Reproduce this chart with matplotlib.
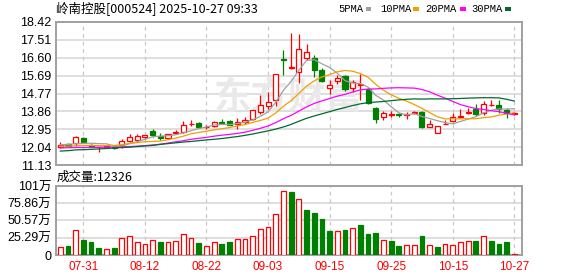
import matplotlib
matplotlib.use("Agg")
import matplotlib.pyplot as plt
from matplotlib.patches import Rectangle
import numpy as np

# ---------------- data ----------------
title = "岭南控股[000524] 2025-10-27 09:33"
vol_title = "成交量:12326"

opens = [12.07, 12.18, 12.23, 12.50, 12.15, 12.03, 12.05, 12.04, 12.16, 12.35,
         12.40, 12.58, 12.88, 12.60, 12.49, 12.75, 12.83, 13.20, 13.25, 13.05,
         13.12, 13.31, 13.38, 13.20, 13.30, 13.46, 13.85, 14.15, 14.42, 16.55,
         16.06, 15.86, 16.58, 16.60, 15.96, 15.07, 15.43, 15.66, 15.04, 15.20,
         14.98, 14.05, 13.58, 13.70, 13.75, 13.70, 13.76, 13.84, 13.08, 12.78,
         13.22, 13.36, 13.60, 13.77, 13.98, 13.80, 14.18, 14.17, 13.94, 13.72]
highs = [12.28, 12.25, 12.60, 12.54, 12.18, 12.05, 12.11, 12.06, 12.45, 12.70,
         12.70, 12.67, 12.98, 12.74, 12.71, 12.92, 13.37, 13.43, 13.34, 13.18,
         13.38, 13.50, 13.42, 13.55, 13.60, 13.95, 14.70, 14.85, 15.78, 17.00,
         17.86, 17.82, 17.28, 16.72, 16.05, 15.47, 15.70, 15.72, 15.45, 15.78,
         15.05, 14.08, 13.88, 13.89, 13.77, 13.85, 13.88, 13.86, 13.42, 13.12,
         13.42, 13.76, 13.98, 14.05, 14.26, 14.38, 14.45, 14.44, 14.05, 13.82]
lows = [11.98, 12.06, 12.12, 12.28, 12.03, 11.80, 12.03, 11.96, 12.00, 12.28,
        12.30, 12.46, 12.58, 12.40, 12.47, 12.71, 12.78, 13.12, 13.00, 12.95,
        13.05, 13.20, 13.15, 12.95, 13.22, 13.42, 13.75, 13.98, 14.15, 15.70,
        16.04, 15.33, 16.48, 15.60, 15.38, 14.76, 15.28, 14.90, 14.86, 14.46,
        14.25, 13.28, 13.40, 13.56, 13.58, 13.46, 13.74, 13.03, 13.06, 12.76,
        13.20, 13.30, 13.55, 13.72, 13.62, 13.70, 14.12, 13.80, 13.55, 13.70]
closes = [12.14, 12.12, 12.56, 12.32, 12.05, 12.04, 12.09, 12.01, 12.37, 12.55,
          12.60, 12.65, 12.66, 12.52, 12.69, 12.81, 13.15, 13.23, 13.08, 13.09,
          13.32, 13.28, 13.19, 13.33, 13.42, 13.93, 14.17, 14.35, 15.76, 16.50,
          16.15, 17.02, 16.87, 15.98, 15.42, 15.20, 15.57, 15.00, 15.38, 15.26,
          14.27, 13.48, 13.79, 13.71, 13.68, 13.73, 13.84, 13.05, 13.22, 13.10,
          13.24, 13.56, 13.64, 13.81, 13.72, 14.22, 14.20, 14.00, 13.77, 13.80]
# volume in 万 (10k shares)
volumes = [11.5, 13.5, 36.5, 22.5, 19.5, 10.5, 8.5, 10.5, 25.0, 27.5,
           19.5, 16.0, 22.0, 19.5, 19.5, 21.0, 30.5, 25.0, 18.0, 13.0,
           19.0, 16.5, 19.5, 23.5, 23.5, 27.5, 38.0, 41.0, 60.0, 93.5,
           92.5, 82.0, 66.5, 62.0, 53.0, 35.5, 35.5, 37.0, 39.5, 44.0,
           31.3, 32.7, 22.3, 20.8, 13.4, 14.4, 14.4, 28.0, 14.4, 12.0,
           16.1, 14.6, 19.3, 20.8, 20.8, 27.5, 20.8, 16.4, 19.3, 1.23]

ma5 = [12.16, 12.18, 12.22, 12.23, 12.24, 12.22, 12.21, 12.10, 12.11, 12.21,
       12.32, 12.44, 12.57, 12.60, 12.62, 12.67, 12.77, 12.88, 12.99, 13.07,
       13.17, 13.20, 13.19, 13.24, 13.31, 13.43, 13.61, 13.84, 14.33, 14.94,
       15.39, 15.96, 16.46, 16.50, 16.29, 16.10, 15.81, 15.43, 15.31, 15.28,
       15.10, 14.68, 14.44, 14.10, 13.79, 13.68, 13.75, 13.60, 13.50, 13.39,
       13.29, 13.23, 13.35, 13.47, 13.59, 13.79, 13.92, 13.99, 13.98, 14.00]
ma10 = [12.08, 12.09, 12.12, 12.13, 12.13, 12.12, 12.12, 12.13, 12.17, 12.23,
        12.27, 12.32, 12.33, 12.35, 12.42, 12.50, 12.60, 12.72, 12.79, 12.85,
        12.92, 12.98, 13.04, 13.12, 13.19, 13.30, 13.40, 13.52, 13.78, 14.13,
        14.41, 14.78, 15.15, 15.42, 15.62, 15.74, 15.88, 15.95, 15.91, 15.79,
        15.60, 15.24, 14.94, 14.71, 14.53, 14.39, 14.21, 14.02, 13.80, 13.59,
        13.48, 13.49, 13.48, 13.49, 13.49, 13.54, 13.58, 13.67, 13.73, 13.80]
ma20 = [12.00, 12.01, 12.02, 12.02, 12.03, 12.03, 12.04, 12.04, 12.05, 12.07,
        12.09, 12.12, 12.15, 12.19, 12.25, 12.31, 12.37, 12.44, 12.49, 12.54,
        12.60, 12.65, 12.69, 12.74, 12.80, 12.90, 13.00, 13.12, 13.29, 13.49,
        13.66, 13.88, 14.09, 14.27, 14.40, 14.52, 14.64, 14.73, 14.85, 14.96,
        15.00, 15.01, 15.04, 15.06, 15.07, 15.06, 15.05, 14.98, 14.86, 14.69,
        14.54, 14.37, 14.21, 14.10, 14.01, 13.96, 13.90, 13.85, 13.76, 13.69]
ma30 = [11.84, 11.86, 11.90, 11.91, 11.93, 11.95, 11.97, 12.00, 12.02, 12.04,
        12.07, 12.10, 12.13, 12.18, 12.22, 12.26, 12.30, 12.33, 12.37, 12.41,
        12.44, 12.48, 12.53, 12.58, 12.64, 12.71, 12.79, 12.87, 12.96, 13.07,
        13.20, 13.36, 13.51, 13.63, 13.74, 13.85, 13.96, 14.06, 14.16, 14.25,
        14.31, 14.34, 14.37, 14.41, 14.45, 14.48, 14.50, 14.49, 14.50, 14.50,
        14.50, 14.51, 14.52, 14.54, 14.55, 14.56, 14.56, 14.55, 14.48, 14.39]

date_pos = [3, 11, 19, 27, 35, 43, 51, 59]
date_labels = ["07-31", "08-12", "08-22", "09-03", "09-15", "09-25", "10-15", "10-27"]
price_ticks = [11.13, 12.04, 12.95, 13.86, 14.77, 15.69, 16.60, 17.51, 18.42]
vol_ticks = [0, 25.29, 50.57, 75.86, 101]
vol_tick_labels = ["0", "25.29万", "50.57万", "75.86万", "101万"]
legend_names = ["5PMA", "10PMA", "20PMA", "30PMA"]

# ---------------- styles ----------------
RED = "#ff0000"
GREEN = "#008000"
MA_COLORS = ["#a0a0a0", "#f0a000", "#ff00ff", "#006a2c"]
GRID = "#d4d4d4"
VGRID = "#c8c8c8"
SPINE = "#a0a0a0"
CJK = ["Noto Sans CJK SC", "DejaVu Sans"]
NUM = ["Liberation Sans", "Noto Sans CJK SC"]

W, H = 578, 276
fig = plt.figure(figsize=(W / 100, H / 100), dpi=100)
fig.patch.set_facecolor("white")


def fx(x):
    return x / W


def fy(y):
    return 1 - y / H


L_, R_ = 55.5, 522.0
ax = fig.add_axes([fx(L_), fy(165), (R_ - L_) / W, (165 - 22) / H])
axv = fig.add_axes([fx(L_), fy(255), (R_ - L_) / W, (255 - 186) / H])

O = np.array(opens)
Hh = np.array(highs)
Lo = np.array(lows)
C = np.array(closes)
V = np.array(volumes)
n = len(C)
x = np.arange(n)
up = C >= O
prevC = np.concatenate([[O[0]], C[:-1]])
vup = C >= prevC

# ---- main panel ----
ax.set_xlim(-0.62, 60.0)
ax.set_ylim(price_ticks[0], price_ticks[-1])
ax.set_yticks(price_ticks)
ax.set_yticklabels([f"{t:.2f}" for t in price_ticks], family=NUM, fontsize=9)
ax.set_xticks([])
for t in price_ticks[1:-1]:
    ax.axhline(t, color=GRID, lw=1.1, zorder=0)
for p in date_pos:
    ax.axvline(p, color=VGRID, lw=0.9, dashes=(3, 3), zorder=0)

ax.text(0.50, 0.47, "东方财富", transform=ax.transAxes, ha="center", va="center",
        fontsize=27, fontweight="bold", style="italic", color="#e9e9e9",
        family=CJK, zorder=0.5)

ccol = np.where(up, RED, GREEN)
ax.vlines(x, Lo, Hh, colors=ccol, lw=0.9, zorder=3)
bb = np.minimum(O, C)
bh = np.maximum(np.abs(C - O), 0.02)
ax.bar(x[up], bh[up], bottom=bb[up], width=0.66, facecolor="white",
       edgecolor=RED, lw=0.9, zorder=4)
ax.bar(x[~up], bh[~up], bottom=bb[~up], width=0.66, facecolor=GREEN,
       edgecolor=GREEN, lw=0.9, zorder=4)

for ma, col in zip([ma5, ma10, ma20, ma30], MA_COLORS):
    ax.plot(x, ma, color=col, lw=0.9, zorder=5)

# ---- volume panel ----
axv.set_xlim(-0.62, 60.0)
axv.set_ylim(0, 101)
axv.set_yticks(vol_ticks)
axv.set_yticklabels(vol_tick_labels, family=NUM, fontsize=9)
axv.set_xticks(date_pos)
axv.set_xticklabels(date_labels, family=NUM, fontsize=8.5, color=RED)
for t in vol_ticks[1:-1]:
    axv.axhline(t, color=GRID, lw=1.1, zorder=0)
for p in date_pos:
    axv.axvline(p, color=VGRID, lw=0.9, dashes=(3, 3), zorder=0)
axv.bar(x[vup], V[vup], width=0.62, facecolor="white", edgecolor=RED, lw=0.9, zorder=3)
axv.bar(x[~vup], V[~vup], width=0.62, facecolor=GREEN, edgecolor=GREEN, lw=0.9, zorder=3)

for a in (ax, axv):
    a.tick_params(axis="both", length=0, pad=3)
    for s in a.spines.values():
        s.set_color(SPINE)
        s.set_linewidth(1.4)
axv.tick_params(axis="x", pad=4)

# ---- texts ----
fig.text(fx(56), fy(8.5), title, family=CJK, fontsize=9, ha="left", va="center")
fig.text(fx(57), fy(177), vol_title, family=CJK, fontsize=9, ha="left", va="center")

leg_x = [338, 380, 425.5, 471.5]
mark_x = [365.5, 413, 460, 505]
for name, lx, mx, col in zip(legend_names, leg_x, mark_x, MA_COLORS):
    fig.text(fx(lx), fy(8.5), name, family=["Liberation Mono"], fontsize=7.6,
             ha="left", va="center")
    fig.patches.append(Rectangle((fx(mx), fy(10.5)), 5.5 / W, 3.5 / H,
                                 transform=fig.transFigure, facecolor=col,
                                 edgecolor="none"))

fig.savefig("out.png", dpi=100, facecolor="white")
